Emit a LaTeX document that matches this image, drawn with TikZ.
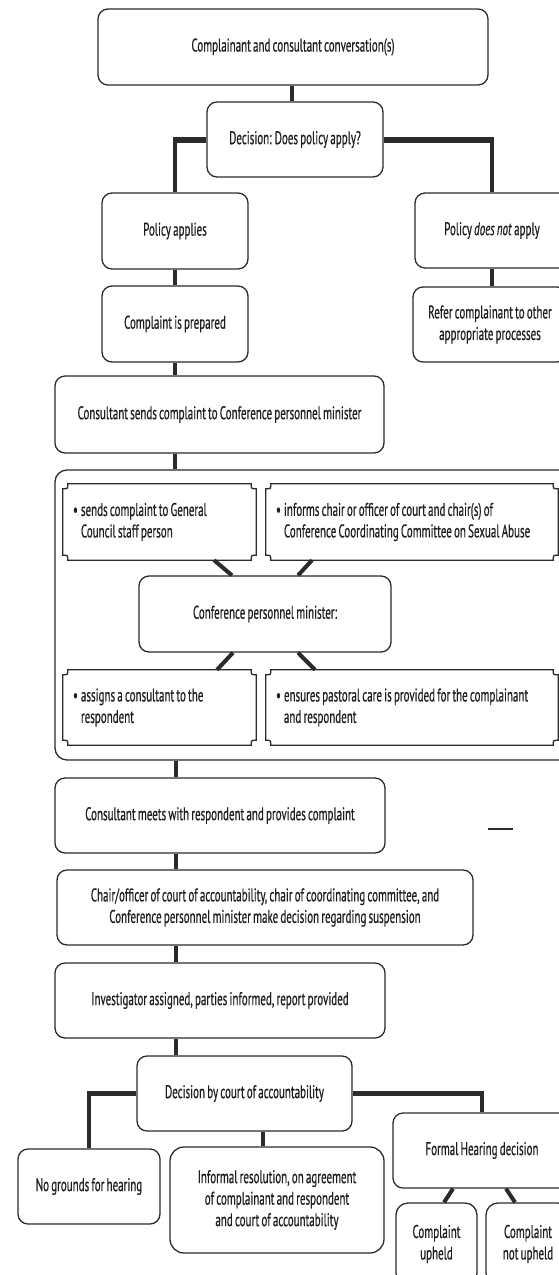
\documentclass[tikz,border=0pt]{standalone}
\usepackage{fontspec}
\setmainfont{PT Sans}[FakeStretch=0.6,FakeBold=0.5,WordSpace=0.75]
\definecolor{lc}{HTML}{2B2B2B}
\definecolor{tc}{HTML}{1E1E1E}
\newcommand\fs{\fontsize{18.3}{21.5}\selectfont}
\newcommand\bul{\textbullet\hspace{3pt}}
\newcommand\ind{\hphantom{\textbullet\hspace{3pt}}}
\newcommand\concaveborder[1]{%
 \draw[line width=1.3pt, draw=lc]
 ([xshift=5pt]#1.north west) -- ([xshift=-5pt]#1.north east)
 .. controls ([xshift=-5pt,yshift=-5pt]#1.north east) .. ([yshift=-5pt]#1.north east)
 -- ([yshift=5pt]#1.south east)
 .. controls ([xshift=-5pt,yshift=5pt]#1.south east) .. ([xshift=-5pt]#1.south east)
 -- ([xshift=5pt]#1.south west)
 .. controls ([xshift=5pt,yshift=5pt]#1.south west) .. ([yshift=5pt]#1.south west)
 -- ([yshift=-5pt]#1.north west)
 .. controls ([xshift=5pt,yshift=-5pt]#1.north west) .. ([xshift=5pt]#1.north west) -- cycle;}
\begin{document}
\begin{tikzpicture}[x=1pt,y=-1pt,
  box/.style={draw=lc, line width=1.3pt, rounded corners=10pt, align=center, inner sep=0pt, font=\fs, text=tc, fill=white},
  subbox/.style={inner xsep=10pt, inner ysep=0pt, align=flush left, font=\fs, text=tc},
  conn/.style={draw=lc, line width=3.2pt},
  hconn/.style={draw=lc, line width=6pt},
  dconn/.style={draw=lc, line width=4pt},
]
\useasboundingbox (0,0) rectangle (559,1275);
\clip (0,0) rectangle (559,1275);

% container
\node[box, rounded corners=12pt, minimum width=520pt, minimum height=290pt] (cont) at (315,615) {};

\node[box, minimum width=390pt, minimum height=76pt] (b1) at (293,47) {Complainant and consultant conversation(s)};
\node[box, minimum width=176pt, minimum height=75pt] (b2) at (295,139.5) {Decision: Does policy apply?};
\node[box, minimum width=146pt, minimum height=76pt] (b3) at (175,231) {Policy applies};
\node[box, minimum width=146pt, minimum height=76pt] (b4) at (175,324) {Complaint is prepared};
\node[box, minimum width=154pt, minimum height=75pt] (b5) at (492,230.5) {Policy \textit{does not} apply};
\node[box, minimum width=154pt, minimum height=75pt] (b6) at (490,324.5) {Refer complainant to other\\appropriate processes};
\node[box, minimum width=329pt, minimum height=77pt] (b7) at (219.5,414.5) {Consultant sends complaint to Conference personnel minister};

\node[subbox, text width=173pt, minimum height=76pt] (s1) at (159.5,522) {\mbox{\bul sends complaint to General}\\\mbox{\ind Council staff person}};
\node[subbox, text width=272pt, minimum height=76pt] (s2) at (412,522) {\mbox{\bul informs chair or officer of court and chair(s) of}\\\mbox{\ind Conference Coordinating Committee on Sexual Abuse}};
\node[box, minimum width=252pt, minimum height=76pt] (cm) at (265,614) {Conference personnel minister:};
\node[subbox, text width=173pt, minimum height=75pt] (s3) at (159.5,707.5) {\mbox{\bul assigns a consultant to the}\\\mbox{\ind respondent}};
\node[subbox, text width=272pt, minimum height=75pt] (s4) at (412,707.5) {\mbox{\bul ensures pastoral care is provided for the complainant}\\\mbox{\ind and respondent}};
\concaveborder{s1}
\concaveborder{s2}
\concaveborder{s3}
\concaveborder{s4}

\node[box, minimum width=330pt, minimum height=75pt] (b8) at (220,815.5) {Consultant meets with respondent and provides complaint};
\node[box, minimum width=416pt, minimum height=75pt] (b9) at (265,907.5) {Chair/officer of court of accountability, chair of coordinating committee, and\\Conference personnel minister make decision regarding suspension};
\node[box, minimum width=330pt, minimum height=75pt] (b10) at (220,1000.5) {Investigator assigned, parties informed, report provided};
\node[box, minimum width=215pt, minimum height=75pt] (b11) at (244.5,1093.5) {Decision by court of accountability};
\node[box, minimum width=142pt, minimum height=75pt] (b12) at (89,1186.5) {No grounds for hearing};
\node[box, rounded corners=14pt, minimum width=214pt, minimum height=106pt] (b13) at (277,1200) {Informal resolution, on agreement\\of complainant and respondent\\and court of accountability};
\node[box, minimum width=178pt, minimum height=75pt] (b14) at (482,1150.5) {Formal Hearing decision};
\node[box, rounded corners=12pt, minimum width=81pt, minimum height=82pt] (b15) at (436.5,1244) {Complaint\\upheld};
\node[box, rounded corners=12pt, minimum width=84pt, minimum height=82pt] (b16) at (528,1244) {Complaint\\not upheld};

% connectors
\draw[conn] (b1.south -| 292,0) -- (b2.north -| 292,0);
\draw[hconn] (b2.west) -- ([xshift=-1.6pt]b2.west -| b3.north);
\draw[conn] ([yshift=3pt]b2.west -| b3.north) -- (b3.north);
\draw[hconn] (b2.east) -- ([xshift=1.6pt]b2.east -| b5.north);
\draw[conn] ([yshift=3pt]b2.east -| b5.north) -- (b5.north);
\draw[conn] (b3.south) -- (b4.north);
\draw[conn] (b5.south) -- (b5.south |- b6.north);
\draw[conn] (b4.south) -- (b4.south |- b7.north);
\draw[conn] (b4.south |- b7.south) -- (b4.south |- cont.north);
\draw[conn] ([xshift=1pt]b4.south |- cont.south) -- ([xshift=1pt]b4.south |- b8.north);
\draw[conn] ([xshift=1pt]b4.south |- b8.south) -- ([xshift=1pt]b4.south |- b9.north);
\draw[conn] ([xshift=1pt]b4.south |- b9.south) -- ([xshift=1pt]b4.south |- b10.north);
\draw[conn] ([xshift=1pt]b4.south |- b10.south) -- ([xshift=1pt]b4.south |- b11.north);

\draw[dconn] ([xshift=54.5pt]s1.south) -- ([xshift=-33pt]cm.north);
\draw[dconn] ([xshift=-100pt]s2.south) -- ([xshift=33pt]cm.north);
\draw[dconn] ([xshift=-32pt]cm.south) -- ([xshift=57.5pt]s3.north);
\draw[dconn] ([xshift=33pt]cm.south) -- ([xshift=-97pt]s4.north);

\draw[hconn, line width=5pt] ([yshift=0.5pt]b11.west) -- ([xshift=-1.8pt,yshift=0.5pt]b11.west -| b12.north);
\draw[conn, line width=3.6pt] ([yshift=3pt]b11.west -| b12.north) -- (b12.north);
\draw[hconn, line width=5pt] ([yshift=0.5pt]b11.east) -- ([xshift=1.8pt,yshift=0.5pt]b11.east -| b14.north);
\draw[conn, line width=3.6pt] ([yshift=3pt]b11.east -| b14.north) -- (b14.north);
\draw[conn] ([xshift=18.5pt]b11.south) -- ([xshift=18.5pt]b11.south |- b13.north);
\draw[dconn] ([xshift=-29pt]b14.south) -- ([xshift=7.5pt]b15.north);
\draw[dconn] ([xshift=24pt]b14.south) -- ([xshift=-13pt]b16.north);

% stray dash
\coordinate (d1) at (488,829);
\coordinate (d2) at (513,829);
\draw[draw=lc, line width=1.6pt] (d1) -- (d2);
\end{tikzpicture}
\end{document}
